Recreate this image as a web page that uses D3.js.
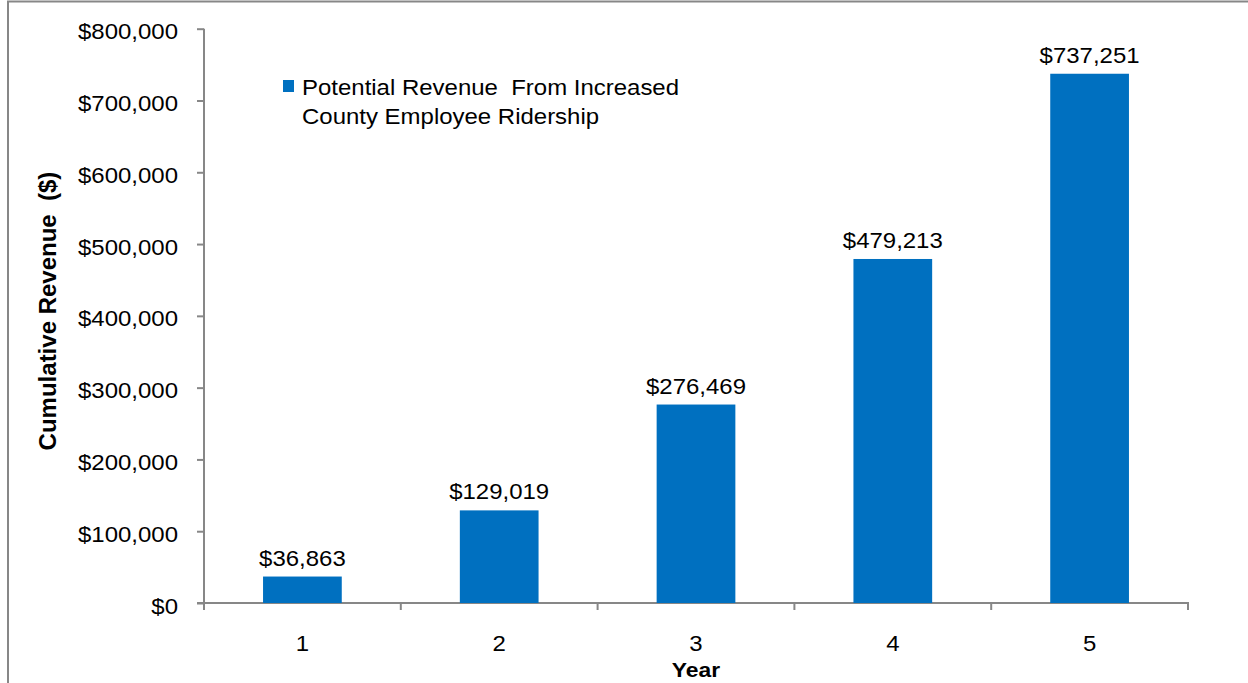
<!DOCTYPE html>
<html>
<head>
<meta charset="utf-8">
<script src="https://cdn.jsdelivr.net/npm/d3@7"></script>
<style>
  html, body { margin: 0; padding: 0; background: #fff; }
  svg { display: block; font-family: "Liberation Sans", Arial, sans-serif; }
  text { white-space: pre; }
</style>
</head>
<body>
<svg id="chart" width="1248" height="683"></svg>
<script>
// Cumulative revenue by year
const years = ["1", "2", "3", "4", "5"];
const revenue = [36863, 129019, 276469, 479213, 737251];
const yTicks = [0, 100000, 200000, 300000, 400000, 500000, 600000, 700000, 800000];
const legendLines = ["Potential Revenue  From Increased", "County Employee Ridership"];

const svg = d3.select("#chart");
const axisColor = "#878787";
const barColor = "#0070C0";
const textWiden = 1.09;   // the lettering is set slightly wide

const plot = { left: 204, right: 1188, top: 28.7, bottom: 603 };

// place a text element at (x, y) with widened glyphs
function placeWide(sel, fx, fy) {
  sel.attr("x", 0).attr("y", 0)
    .attr("transform", (d, i) => `translate(${fx(d, i)},${fy(d, i)}) scale(${textWiden},1)`);
}

// Outer chart frame
svg.append("rect")
  .attr("x", 8).attr("y", 1.5)
  .attr("width", 1400).attr("height", 900)
  .attr("fill", "none").attr("stroke", axisColor).attr("stroke-width", 2);

const y = d3.scaleLinear().domain([0, 800000]).range([plot.bottom, plot.top]);
const x = d3.scaleBand().domain(years)
  .range([plot.left, plot.right])
  .paddingInner(0.6).paddingOuter(0.3);
const xCat = d3.scaleBand().domain(years).range([plot.left, plot.right]).padding(0);

const fmt = d3.format("$,.0f");

// Y axis
const yAxis = svg.append("g")
  .attr("transform", `translate(${plot.left},0)`)
  .call(d3.axisLeft(y).tickValues(yTicks).tickFormat(fmt).tickSize(7));
yAxis.select(".domain").attr("stroke", axisColor).attr("stroke-width", 2)
  .attr("d", `M0,${plot.bottom}V${plot.top}`);
yAxis.selectAll(".tick line").attr("stroke", axisColor).attr("stroke-width", 2);
yAxis.selectAll(".tick text")
  .attr("font-size", 22).attr("fill", "#000")
  .attr("font-family", "Liberation Sans, Arial, sans-serif")
  .attr("dy", null)
  .call(placeWide, () => -26, () => 10);

// X axis: labels at category centres, tick marks at category boundaries
const xAxis = svg.append("g")
  .attr("transform", `translate(0,${plot.bottom})`)
  .call(d3.axisBottom(x).tickSize(0).tickPadding(0));
xAxis.select(".domain").attr("stroke", axisColor).attr("stroke-width", 2)
  .attr("d", `M${plot.left - 7},0H${plot.right}V7`);
xAxis.selectAll(".tick text")
  .attr("font-size", 22).attr("fill", "#000")
  .attr("font-family", "Liberation Sans, Arial, sans-serif")
  .attr("dy", null)
  .call(placeWide, () => 0, () => 48);
xAxis.selectAll(".boundary")
  .data(years)
  .join("line")
  .attr("class", "boundary")
  .attr("x1", d => xCat(d)).attr("x2", d => xCat(d))
  .attr("y1", 0).attr("y2", 7)
  .attr("stroke", axisColor).attr("stroke-width", 2);

// Bars
svg.append("g").selectAll("rect")
  .data(revenue)
  .join("rect")
  .attr("x", (d, i) => x(years[i]))
  .attr("width", x.bandwidth())
  .attr("y", d => y(d))
  .attr("height", d => y(0) - y(d))
  .attr("fill", barColor);

// Value labels
svg.append("g").selectAll("text")
  .data(revenue)
  .join("text")
  .attr("text-anchor", "middle")
  .attr("font-size", 22)
  .attr("fill", "#000")
  .text(d => fmt(d))
  .call(placeWide, (d, i) => x(years[i]) + x.bandwidth() / 2, d => y(d) - 11);

// Axis titles
svg.append("text")
  .attr("text-anchor", "middle")
  .attr("font-size", 21).attr("font-weight", "bold")
  .text("Year")
  .call(placeWide, () => (plot.left + plot.right) / 2, () => 677);

svg.append("text")
  .attr("transform", "translate(56,311) rotate(-90)")
  .attr("text-anchor", "middle")
  .attr("font-size", 24).attr("font-weight", "bold")
  .text("Cumulative Revenue  ($)");

// Legend
const legend = svg.append("g");
legend.append("rect")
  .attr("x", 283).attr("y", 80)
  .attr("width", 11).attr("height", 12)
  .attr("fill", barColor);
legend.selectAll("text")
  .data(legendLines)
  .join("text")
  .attr("font-size", 22)
  .attr("fill", "#000")
  .text(d => d)
  .call(placeWide, () => 302, (d, i) => 95 + i * 29);
</script>
</body>
</html>
